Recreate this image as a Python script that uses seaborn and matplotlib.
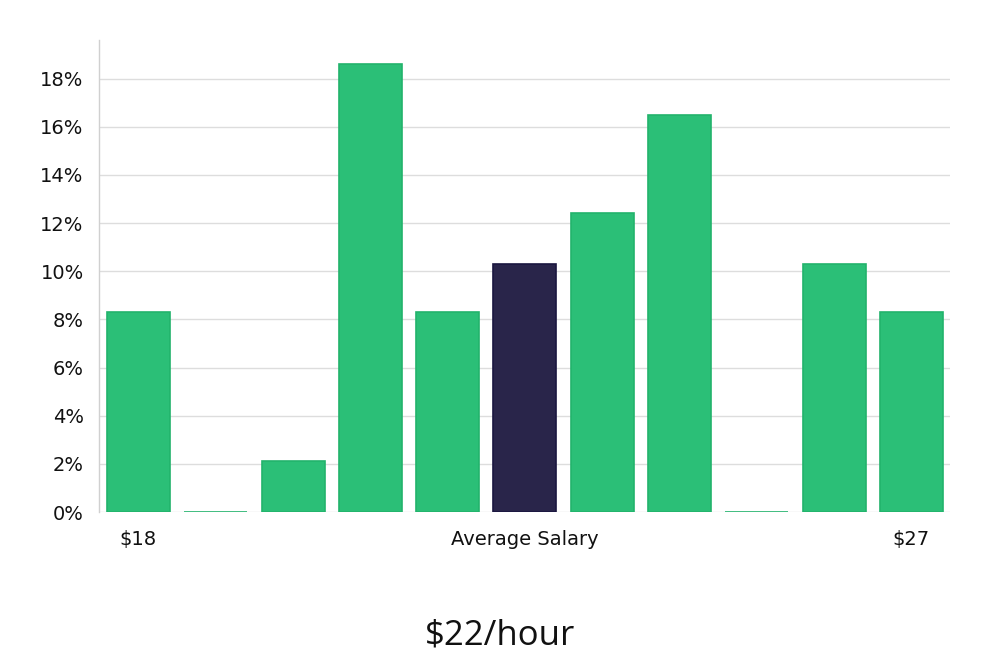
import pandas as pd
import seaborn as sns
import matplotlib.pyplot as plt
from matplotlib.ticker import PercentFormatter

# Dati
bins = list(range(11))
shares = [8.3, 0.0, 2.1, 18.6, 8.3, 10.3, 12.4, 16.5, 0.0, 10.3, 8.3]
is_average = [False, False, False, False, False, True, False, False, False, False, False]
tick_labels = {0: "$18", 5: "Average Salary", 10: "$27"}
title = "$22/hour"

GREEN = "#2bbf77"
DARK = "#29254a"

sns.set_theme(style="white")
plt.rcParams['font.family'] = ['DejaVu Sans']

df = pd.DataFrame({"bin": bins, "share": shares})
colors = [DARK if a else GREEN for a in is_average]

fig = plt.figure(figsize=(10, 6.6), dpi=100)
ax = fig.add_axes([0.099, 0.2242, 0.851, 0.7152])

sns.barplot(data=df, x="bin", y="share", hue="bin", palette=colors,
            saturation=1, width=0.815, legend=False, ax=ax, zorder=3)

for patch, a in zip(ax.patches, is_average):
    patch.set_edgecolor("#1a1640" if a else "#22b36c")
    patch.set_linewidth(1.2)

ax.set_xlim(-0.51, 10.5)
ax.set_ylim(0, 19.6)
ax.set_yticks(range(0, 19, 2))
ax.yaxis.set_major_formatter(PercentFormatter(decimals=0))
ax.grid(axis="y", color="#dddddd", linewidth=1, zorder=0)

ax.set_xticks(list(tick_labels.keys()))
ax.set_xticklabels(list(tick_labels.values()))
ax.tick_params(axis="x", length=0, pad=13, labelsize=14, colors="#111111")
ax.tick_params(axis="y", length=10, width=1, color="#dddddd", pad=1,
               labelsize=14, colors="#111111")
ax.set_xlabel("")
ax.set_ylabel("")

for side in ["top", "right", "bottom"]:
    ax.spines[side].set_visible(False)
ax.spines["left"].set_color("#d0d0d0")
ax.spines["left"].set_linewidth(1)

fig.text(0.5, 0.024, title, ha="center", va="baseline", fontsize=25,
         family=["Open Sans", "DejaVu Sans"], color="#111111")

fig.savefig("out.png", dpi=100)
